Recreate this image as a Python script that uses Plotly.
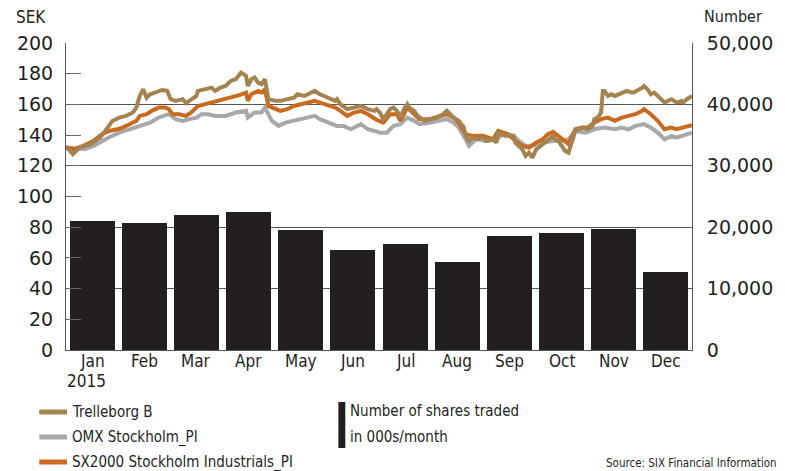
import plotly.graph_objects as go

months = ["Jan", "Feb", "Mar", "Apr", "May", "Jun", "Jul", "Aug", "Sep", "Oct", "Nov", "Dec"]
shares_traded = [21000, 20700, 22000, 22500, 19500, 16300, 17300, 14300, 18600, 19000, 19700, 12700]

# day-of-year (0..365) and SEK values
trel_day = [0, 4, 8, 14, 20, 24, 27, 31, 35, 39, 41, 43, 45, 47, 49, 53, 56, 59, 61, 64, 68, 70, 73, 76, 77,
            81, 85, 87, 90, 93, 96, 99, 102, 105, 106, 108, 110, 112, 114, 116, 118, 122, 125, 129, 133, 135,
            139, 143, 145, 148, 153, 157, 158, 160, 164, 168, 172, 176, 180, 181, 183, 185, 187, 189, 191, 193,
            195, 197, 199, 200, 203, 205, 209, 212, 216, 220, 222, 224, 226, 229, 232, 233, 235, 237, 239, 243,
            245, 249, 251, 252, 256, 261, 262, 266, 268, 270, 272, 274, 278, 281, 284, 285, 287, 289, 291, 293,
            295, 297, 301, 304, 307, 308, 310, 312, 313, 314, 316, 318, 320, 324, 327, 330, 331, 336, 337, 339,
            341, 343, 345, 347, 349, 351, 353, 356, 359, 360, 362, 365]
trel_val = [132.5, 127.6, 131.9, 134.0, 138.4, 144.9, 149.2, 151.4, 152.5, 154.7, 157.9, 165.5, 169.9, 164.4, 166.6,
            168.1, 169.4, 168.8, 163.4, 162.3, 163.4, 160.8, 163.4, 165.5, 168.8, 169.9, 170.9, 168.8, 170.9, 172.0,
            175.3, 176.4, 180.7, 178.6, 172.0, 176.4, 177.5, 174.2, 173.2, 176.4, 163.4, 162.3, 162.3, 163.4, 164.4,
            166.6, 165.5, 167.7, 168.8, 166.6, 164.4, 162.3, 163.4, 160.1, 156.9, 157.9, 159.0, 156.9, 155.8, 156.9,
            154.7, 150.4, 153.6, 156.9, 157.9, 155.8, 151.4, 156.9, 160.1, 157.9, 155.8, 152.5, 149.3, 150.4, 151.4,
            153.6, 155.8, 153.6, 151.4, 149.3, 144.9, 139.5, 136.2, 138.4, 137.3, 138.4, 136.2, 137.3, 135.1, 141.6,
            139.5, 139.5, 135.1, 130.8, 126.4, 128.6, 125.3, 130.5, 134.1, 136.2, 139.5, 137.3, 136.2, 133.0, 129.7,
            128.6, 135.1, 142.7, 144.9, 143.8, 146.0, 150.4, 151.4, 154.7, 168.8, 168.8, 165.5, 166.6, 165.5, 167.7,
            168.8, 167.7, 167.7, 170.9, 172.0, 169.9, 166.6, 167.7, 165.5, 163.4, 161.2, 162.3, 163.4, 161.2, 162.3,
            161.2, 163.4, 165.5]

omx_day = [0, 11, 16, 21, 25, 31, 37, 43, 49, 54, 60, 64, 68, 72, 76, 79, 83, 87, 91, 93, 99, 105, 106, 110, 114,
           116, 120, 124, 128, 133, 139, 145, 148, 154, 158, 162, 166, 172, 176, 180, 183, 187, 191, 195, 199, 203,
           206, 212, 218, 222, 226, 229, 233, 235, 239, 245, 251, 255, 261, 264, 268, 272, 276, 278, 284, 289, 293,
           297, 303, 308, 314, 320, 324, 328, 332, 337, 341, 345, 349, 353, 356, 360, 365]
omx_val = [132.0, 130.8, 133.0, 136.2, 138.4, 141.6, 143.8, 146.0, 148.1, 151.4, 153.6, 150.4, 149.3, 150.4, 151.4,
           153.6, 153.6, 152.5, 152.5, 152.5, 154.7, 155.8, 151.4, 154.7, 154.7, 157.9, 149.3, 146.0, 148.1, 149.3,
           150.4, 152.5, 150.4, 148.1, 146.0, 146.0, 143.8, 147.1, 143.8, 142.7, 141.6, 141.6, 146.0, 147.1, 151.4,
           149.3, 147.1, 148.1, 149.3, 150.4, 148.1, 144.9, 137.3, 133.0, 137.3, 136.2, 137.3, 140.6, 139.5, 136.2,
           133.0, 133.0, 134.5, 135.1, 136.2, 136.2, 137.3, 142.7, 141.6, 143.8, 144.9, 143.8, 144.9, 143.8, 146.0,
           147.1, 144.9, 141.6, 137.3, 139.5, 138.4, 139.8, 141.6]

sx_day = [0, 5, 10, 16, 21, 25, 30, 33, 37, 41, 43, 47, 50, 54, 58, 60, 62, 66, 70, 73, 77, 81, 85, 89, 93, 96,
          101, 105, 106, 108, 112, 114, 116, 118, 122, 125, 129, 133, 137, 141, 145, 148, 153, 157, 160, 164, 168,
          172, 176, 180, 181, 185, 189, 193, 195, 199, 203, 206, 212, 218, 222, 226, 229, 233, 237, 243, 249, 252,
          258, 262, 266, 270, 274, 278, 281, 284, 287, 291, 293, 297, 301, 304, 308, 312, 316, 320, 324, 328, 332,
          336, 337, 341, 345, 349, 353, 356, 360, 365]
sx_val = [132.0, 130.8, 133.0, 136.2, 140.6, 142.7, 143.8, 144.9, 147.1, 149.3, 152.5, 153.6, 155.8, 157.9, 157.9,
          156.9, 153.6, 153.6, 152.5, 154.7, 159.0, 160.1, 161.2, 162.3, 163.4, 164.4, 166.0, 167.7, 162.3, 166.6,
          168.8, 167.7, 169.9, 159.0, 156.9, 155.8, 156.9, 159.0, 160.1, 161.2, 162.3, 161.2, 159.0, 157.9, 155.8,
          152.5, 154.7, 155.8, 153.6, 150.4, 150.0, 148.1, 153.6, 153.6, 149.3, 157.9, 153.6, 150.4, 150.4, 152.5,
          153.6, 151.4, 148.1, 140.6, 139.5, 139.5, 137.3, 142.7, 140.6, 136.2, 133.0, 131.9, 135.1, 137.3, 140.6,
          142.1, 139.5, 136.2, 134.1, 143.8, 144.9, 144.9, 148.1, 150.4, 151.4, 149.3, 151.4, 152.5, 153.6, 155.8,
          156.9, 153.6, 149.3, 143.8, 144.9, 143.8, 144.9, 146.4]

C_TREL = "#a5834f"
C_OMX = "#a6a8ab"
C_SX = "#c96a1e"
C_BAR = "#231f20"
TXT = "#231f20"
NARROW = "Liberation Sans Narrow, Arial Narrow, DejaVu Sans Condensed, sans-serif"
WIDE = "DejaVu Sans, Verdana, sans-serif"

# plot area in pixels
PL, PR, PT, PB = 66, 698, 43, 350


def pos(days):
    return [-0.5 + d / 365 * 12 for d in days]


def px(x):
    return (x - PL) / (PR - PL)


def py(y):
    return (PB - y) / (PB - PT)


fig = go.Figure()
fig.add_trace(go.Bar(x=list(range(12)), y=shares_traded, width=0.86, marker_color=C_BAR,
                     marker_line_width=0, yaxis="y2", showlegend=False))
fig.add_trace(go.Scatter(x=pos(omx_day), y=omx_val, mode="lines", line=dict(color=C_OMX, width=4),
                         showlegend=False))
fig.add_trace(go.Scatter(x=pos(sx_day), y=sx_val, mode="lines", line=dict(color=C_SX, width=4),
                         showlegend=False))
fig.add_trace(go.Scatter(x=pos(trel_day), y=trel_val, mode="lines", line=dict(color=C_TREL, width=4),
                         showlegend=False))

fig.update_layout(
    width=785, height=471,
    margin=dict(l=PL, r=785 - PR, t=PT, b=471 - PB),
    paper_bgcolor="white", plot_bgcolor="white",
    bargap=0,
    xaxis=dict(range=[-0.5, 11.5], tickvals=list(range(12)), showticklabels=False, ticks="",
               showgrid=False, zeroline=False, showline=True, linecolor="#555", linewidth=1,
               fixedrange=True),
    yaxis=dict(range=[0, 200], dtick=20, ticks="inside", ticklen=15, tickcolor="#666", tickwidth=1,
               showgrid=False, zeroline=False, showline=True, linecolor="#555", linewidth=1,
               tickfont=dict(family=WIDE, size=19, color=TXT), ticklabelstandoff=8),
    yaxis2=dict(range=[0, 50000], dtick=10000, overlaying="y", side="right", ticks="",
                showgrid=True, gridcolor="#555", gridwidth=1, zeroline=False, showline=True,
                linecolor="#555", linewidth=1, tickformat=",d",
                tickfont=dict(family=WIDE, size=19, color=TXT), ticklabelstandoff=10),
)

LEG = 15
ann = [
    dict(text="SEK", x=13, y=17, xanchor="left", font=dict(family=NARROW, size=17)),
    dict(text="Number", x=708, y=17, xanchor="left", font=dict(family=NARROW, size=16)),
    dict(text="2015", x=65, y=381, xanchor="left", font=dict(family=NARROW, size=17)),
    dict(text="Trelleborg B", x=70, y=412, xanchor="left", font=dict(family=NARROW, size=LEG)),
    dict(text="OMX Stockholm_PI", x=70, y=437, xanchor="left", font=dict(family=NARROW, size=LEG)),
    dict(text="SX2000 Stockholm Industrials_PI", x=70, y=462, xanchor="left",
         font=dict(family=NARROW, size=LEG)),
    dict(text="Number of shares traded", x=351, y=411, xanchor="left", font=dict(family=NARROW, size=LEG)),
    dict(text="in 000s/month", x=351, y=437, xanchor="left", font=dict(family=NARROW, size=LEG)),
    dict(text="Source: SIX Financial Information", x=786, y=463, xanchor="right",
         font=dict(family=NARROW, size=11.5)),
]
annotations = []
for a in ann:
    a = dict(a)
    a["x"] = px(a["x"])
    a["y"] = py(a["y"])
    a.update(xref="paper", yref="paper", showarrow=False, yanchor="middle")
    a["font"] = dict(a["font"], color=TXT)
    annotations.append(a)
# month labels placed on the x axis scale
for i, m in enumerate(months):
    annotations.append(dict(text=m, x=i, xref="x", y=py(361), yref="paper", showarrow=False,
                            xanchor="center", yanchor="middle",
                            font=dict(family=NARROW, size=17, color=TXT)))
fig.update_layout(annotations=annotations)

shapes = []
for yy, col in [(412, C_TREL), (437, C_OMX), (462, C_SX)]:
    shapes.append(dict(type="line", xref="paper", yref="paper", x0=px(39), x1=px(67),
                       y0=py(yy), y1=py(yy), line=dict(color=col, width=5)))
shapes.append(dict(type="rect", xref="paper", yref="paper", x0=px(341), x1=px(348),
                   y0=py(448), y1=py(402), fillcolor=C_BAR, line_width=0))
fig.update_layout(shapes=shapes)

fig.write_html("out.html")
